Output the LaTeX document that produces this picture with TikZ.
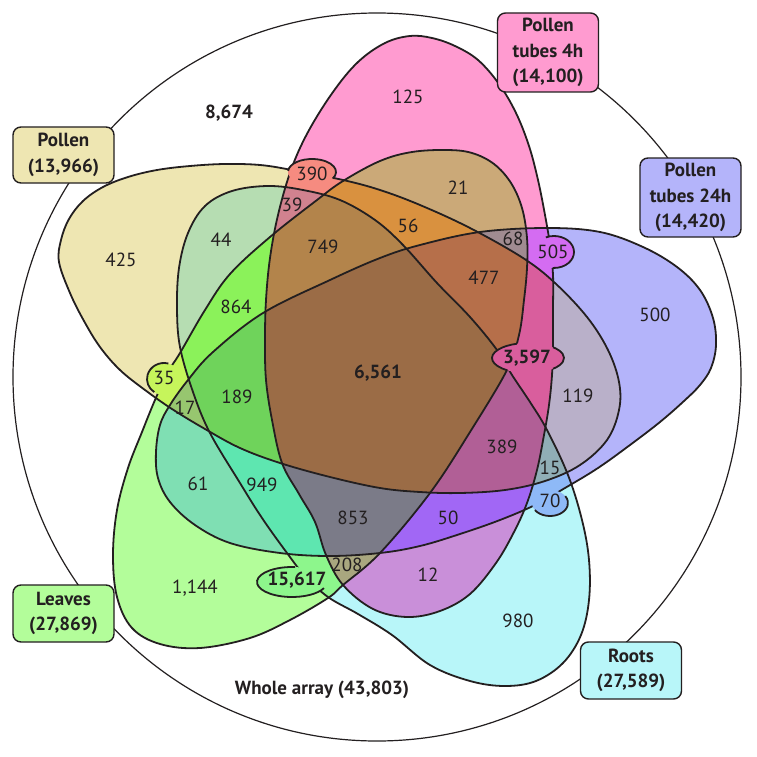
\documentclass[tikz,border=0pt]{standalone}
\usepackage{fontspec}
\setmainfont{PT Sans}
\definecolor{txt}{HTML}{231F20}
\definecolor{cP}{HTML}{EEE6B2}
\definecolor{cT}{HTML}{FF9BD0}
\definecolor{cB}{HTML}{B4B4FA}
\definecolor{cR}{HTML}{B8F6F9}
\definecolor{cL}{HTML}{B3FD9A}
\definecolor{cPR}{HTML}{B6DDB2}
\definecolor{cPL}{HTML}{C6F55B}
\definecolor{cLB}{HTML}{7FDFB3}
\definecolor{cLR}{HTML}{8DF68C}
\definecolor{cTR}{HTML}{C98FD9}
\definecolor{cBR}{HTML}{8EB9F7}
\definecolor{cPB}{HTML}{B9B0C9}
\definecolor{cTB}{HTML}{D46CF2}
\definecolor{cTL}{HTML}{CBA978}
\definecolor{cPT}{HTML}{F68B80}
\definecolor{cPRL}{HTML}{8BF25A}
\definecolor{cPLB}{HTML}{97C66F}
\definecolor{cLBR}{HTML}{5EE6B0}
\definecolor{cLRT}{HTML}{A9A77F}
\definecolor{cTRB}{HTML}{A167F5}
\definecolor{cPBR}{HTML}{90AEB6}
\definecolor{cPTB}{HTML}{D95E9D}
\definecolor{cTLB}{HTML}{A08B91}
\definecolor{cPTL}{HTML}{D9913F}
\definecolor{cPTR}{HTML}{D1828F}
\definecolor{cPLBR}{HTML}{6FD35B}
\definecolor{cLBRT}{HTML}{7B7B88}
\definecolor{cPTBR}{HTML}{B15F96}
\definecolor{cPTLB}{HTML}{B66F4A}
\definecolor{cPTLR}{HTML}{B3844B}
\definecolor{cAll}{HTML}{9B6C46}
\def\shP{plot[smooth cycle,tension=0.6] coordinates {(59,262) (61,240) (69,219) (83,201) (103,187) (128,177) (157,170) (190,166) (225,164) (260,165) (292,170) (343,180) (380,190) (420,205) (470,228) (523,258) (555,283) (587,317) (608,350) (619,382) (619,410) (607,440) (580,465) (545,481) (505,490) (460,493) (420,492) (380,488) (330,477) (280,463) (240,448) (205,429) (172,409) (145,390) (120,370) (100,347) (84,321) (70,293)}}
\def\shT{plot[smooth cycle,tension=0.6] coordinates {(410,36) (432,38) (455,46) (478,60) (499,84) (516,113) (529,146) (538,180) (545,215) (550,245) (553,275) (553,310) (553,345) (552,375) (549,405) (544,435) (537,470) (527,503) (514,532) (496,563) (470,594) (440,611) (407,617) (373,609) (343,585) (326,555) (315,522) (299,494) (282,463) (272,420) (266,380) (265,340) (266,300) (270,258) (278,215) (291,170) (308,132) (333,92) (358,62) (385,43)}}
\def\shB{plot[smooth cycle,tension=0.6] coordinates {(156,452) (160,425) (170,405) (188,380) (213,352) (263,313) (330,280) (380,258) (420,245) (480,232) (547,228) (600,232) (643,247) (677,267) (700,290) (713,318) (716,345) (711,368) (700,385) (684,401) (660,422) (630,445) (598,468) (565,488) (535,505) (500,520) (460,534) (420,546) (380,553) (330,556) (280,553) (230,543) (195,525) (170,502) (158,478)}}
\def\shR{plot[smooth cycle,tension=0.6] coordinates {(180,347) (177,308) (179,268) (188,233) (205,206) (232,191) (268,186) (303,190) (340,200) (375,220) (403,245) (437,283) (470,317) (497,350) (512,375) (530,402) (547,430) (568,475) (582,520) (589,560) (589,600) (581,635) (563,663) (536,681) (505,686) (470,681) (430,665) (392,635) (358,614) (328,597) (305,576) (287,553) (262,518) (240,483) (210,433) (193,392)}}
\def\shL{plot[smooth cycle,tension=0.6] coordinates {(447,150) (472,153) (494,164) (511,183) (522,208) (527,238) (527,268) (524,300) (519,335) (507,370) (470,432) (430,493) (380,553) (343,585) (328,598) (290,620) (250,638) (200,648) (160,644) (132,628) (117,597) (113,555) (117,510) (128,468) (142,432) (155,400) (168,372) (180,353) (205,310) (230,274) (270,237) (317,200) (343,181) (380,161) (412,152)}}
\newcommand\regfill[2]{\begin{scope}#1\fill[#2] (0,0) rectangle (756,757);\end{scope}}
\begin{document}
\begin{tikzpicture}[x=1pt,y=-1pt,
  outl/.style={line width=1.8pt,line join=round},
  num/.style={font=\fontsize{19}{22}\selectfont,text=txt,inner sep=0pt},
  bnum/.style={font=\fontsize{19}{22}\selectfont\bfseries,text=txt,inner sep=0pt},
  lbox/.style={draw=txt,line width=1.4pt,rounded corners=8pt,font=\fontsize{19}{25.5}\selectfont\bfseries,align=center,inner sep=0pt,text=txt,minimum width=101pt},
  bub/.style={line width=1.8pt}]
\useasboundingbox (0,0) rectangle (756,757);
\fill[white] (0,0) rectangle (756,757);
% whole array circle
\draw[line width=1.2pt,txt] (377,377) circle [radius=364];
% single sets
\regfill{\clip \shP;}{cP}
\regfill{\clip \shT;}{cT}
\regfill{\clip \shB;}{cB}
\regfill{\clip \shR;}{cR}
\regfill{\clip \shL;}{cL}
% pairs
\regfill{\clip \shP; \clip \shR;}{cPR}
\regfill{\clip \shP; \clip \shL;}{cPL}
\regfill{\clip \shL; \clip \shB;}{cLB}
\regfill{\clip \shL; \clip \shR;}{cLR}
\regfill{\clip \shT; \clip \shR;}{cTR}
\regfill{\clip \shB; \clip \shR;}{cBR}
\regfill{\clip \shP; \clip \shB;}{cPB}
\regfill{\clip \shT; \clip \shB;}{cTB}
\regfill{\clip \shT; \clip \shL;}{cTL}
\regfill{\clip \shP; \clip \shT;}{cPT}
% triples
\regfill{\clip \shP; \clip \shR; \clip \shL;}{cPRL}
\regfill{\clip \shP; \clip \shL; \clip \shB;}{cPLB}
\regfill{\clip \shL; \clip \shB; \clip \shR;}{cLBR}
\regfill{\clip \shL; \clip \shR; \clip \shT;}{cLRT}
\regfill{\clip \shT; \clip \shR; \clip \shB;}{cTRB}
\regfill{\clip \shP; \clip \shB; \clip \shR;}{cPBR}
\regfill{\clip \shP; \clip \shT; \clip \shB;}{cPTB}
\regfill{\clip \shT; \clip \shL; \clip \shB;}{cTLB}
\regfill{\clip \shP; \clip \shT; \clip \shL;}{cPTL}
\regfill{\clip \shP; \clip \shT; \clip \shR;}{cPTR}
% quadruples
\regfill{\clip \shP; \clip \shL; \clip \shB; \clip \shR;}{cPLBR}
\regfill{\clip \shL; \clip \shB; \clip \shR; \clip \shT;}{cLBRT}
\regfill{\clip \shP; \clip \shT; \clip \shB; \clip \shR;}{cPTBR}
\regfill{\clip \shP; \clip \shT; \clip \shL; \clip \shB;}{cPTLB}
\regfill{\clip \shP; \clip \shT; \clip \shL; \clip \shR;}{cPTLR}
% all five
\regfill{\clip \shP; \clip \shT; \clip \shL; \clip \shR; \clip \shB;}{cAll}
% outlines
\draw[outl,txt] \shP;
\draw[outl,txt] \shT;
\draw[outl,txt] \shB;
\draw[outl,txt] \shR;
\draw[outl,txt] \shL;
% bubbles
\fill[cPT] (312,172) ellipse [x radius=24,y radius=13];
\draw[bub,txt] (312,172) ++(185:24 and 13) arc[start angle=185,end angle=390,x radius=24,y radius=13];
\fill[cTB] (554,252) ellipse [x radius=20,y radius=16];
\draw[bub,txt] (554,252) ++(246:20 and 16) arc[start angle=246,end angle=454,x radius=20,y radius=16];
\fill[cPTB] (528,358) ellipse [x radius=36,y radius=15];
\draw[bub,txt] (528,358) ++(125:36 and 15) arc[start angle=125,end angle=252,x radius=36,y radius=15];
\draw[bub,txt] (528,358) ++(314:36 and 15) arc[start angle=314,end angle=406,x radius=36,y radius=15];
\fill[cBR] (550,503) ellipse [x radius=18,y radius=13];
\draw[bub,txt] (550,503) ++(147:18 and 13) arc[start angle=147,end angle=-32,x radius=18,y radius=13];
\fill[cPL] (164,379) ellipse [x radius=17,y radius=16];
\draw[bub,txt] (164,379) ++(285:17 and 16) arc[start angle=285,end angle=125,x radius=17,y radius=16];
\fill[cLR] (292,582) ellipse [x radius=35,y radius=15];
\draw[bub,txt] (292,582) ++(275:35 and 15) arc[start angle=275,end angle=24,x radius=35,y radius=15];
% region labels
\node[bnum] (n8674) at (229,113) {8,674};
\node[num] (n425) at (121,260) {425};
\node[num] (n44) at (221,240) {44};
\node[num] (n390) at (312,174) {390};
\node[num] (n39) at (292,205) {39};
\node[num] (n749) at (323,247) {749};
\node[num] (n864) at (236,307) {864};
\node[num] (n35) at (164,378) {35};
\node[bnum] (n6561) at (378,373) {6,561};
\node[num] (n125) at (408,97) {125};
\node[num] (n21) at (458,188) {21};
\node[num] (n56) at (408,226) {56};
\node[num] (n68) at (513,239) {68};
\node[num] (n505) at (553,252) {505};
\node[num] (n477) at (484,278) {477};
\node[bnum] (n3597) at (527,358) {3,597};
\node[num] (n500) at (655,315) {500};
\node[num] (n119) at (578,396) {119};
\node[num] (n389) at (502,447) {389};
\node[num] (n15) at (550,468) {15};
\node[num] (n70) at (550,501) {70};
\node[num] (n50) at (448,518) {50};
\node[num] (n12) at (428,575) {12};
\node[num] (n980) at (518,621) {980};
\node[num] (n853) at (353,518) {853};
\node[num] (n208) at (347,565) {208};
\node[bnum] (n15617) at (297,580) {15,617};
\node[num] (n1144) at (195,588) {1,144};
\node[num] (n949) at (262,485) {949};
\node[num] (n61) at (198,484) {61};
\node[num] (n189) at (237,397) {189};
\node[num] (n17) at (185,408) {17};
\node[bnum] (whole) at (322,690) {Whole array (43,803)};
% set label boxes
\node[lbox,fill=cP,minimum height=56pt] (bP) at (63.5,155) {Pollen\\(13,966)};
\node[lbox,fill=cT,minimum height=79pt] (bT) at (548,52.5) {Pollen\\tubes 4h\\(14,100)};
\node[lbox,fill=cB,minimum height=79pt] (bB) at (690.5,197.5) {Pollen\\tubes 24h\\(14,420)};
\node[lbox,fill=cL,minimum height=57pt] (bL) at (63.5,613.5) {Leaves\\(27,869)};
\node[lbox,fill=cR,minimum height=57pt] (bR) at (631,670.5) {Roots\\(27,589)};
\end{tikzpicture}
\end{document}
